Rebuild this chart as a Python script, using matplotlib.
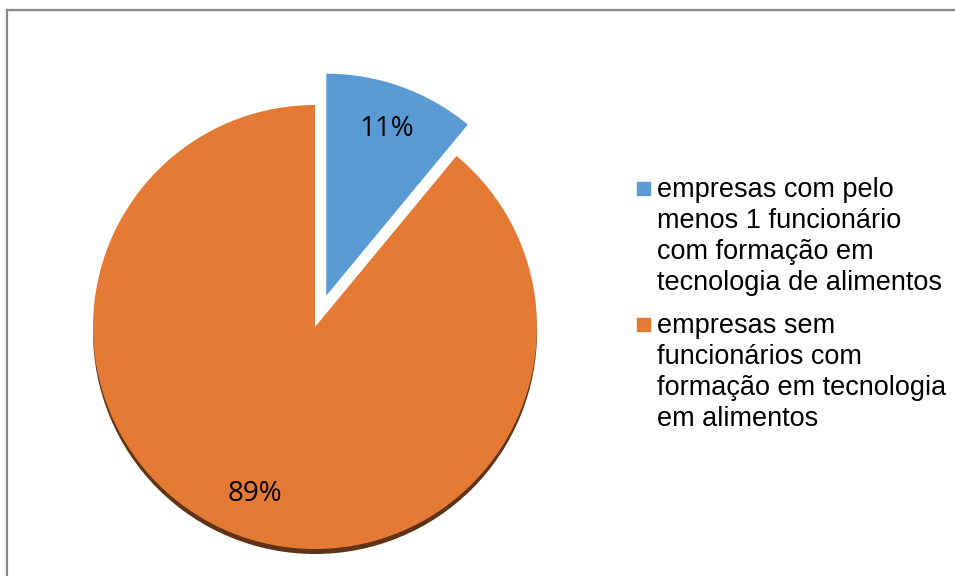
import matplotlib.pyplot as plt
from matplotlib.patches import Rectangle, Circle
from matplotlib.lines import Line2D

W, H = 955, 576

categories = ['empresas com pelo\nmenos 1 funcionário\ncom formação em\ntecnologia de alimentos',
              'empresas sem\nfuncionários com\nformação em tecnologia\nem alimentos']
values = [11, 89]
colors = ['#5B9BD5', '#E47A33']

fig = plt.figure(figsize=(W / 100, H / 100), dpi=100)

# axes covering whole figure, 222 px per data unit, pie centre at (315, 327) px from top-left
R = 222.0
cx, cy = 315.0, 327.0
ax = fig.add_axes([0, 0, 1, 1])

# dark rim under the bottom of the pie (clipped to the lower half)
rim = Circle((0, -5 / R), 1.0, color='#5E3316', lw=0, zorder=0.5)
ax.add_patch(rim)
lower = Rectangle((-2, -2), 4, 2, transform=ax.transData)
rim.set_clip_path(lower)

wedges, texts, autotexts = ax.pie(
    values, colors=colors, startangle=90, counterclock=False,
    explode=[0.15, 0], autopct='%1.0f%%', pctdistance=0.8,
    textprops={'fontsize': 20, 'family': 'Open Sans', 'color': 'black'},
    wedgeprops={'linewidth': 0})
ax.set_aspect('auto')
ax.set_xlim(-cx / R, (W - cx) / R)
ax.set_ylim(-(H - cy) / R, cy / R)
ax.axis('off')

# legend drawn by hand so the marker sits on the first line
first_baseline = [197, 333]
line_step = 31
for lab, col, yb in zip(categories, colors, first_baseline):
    fig.add_artist(Rectangle((637 / W, 1 - (yb - 2) / H), 13 / W, 13 / H,
                             transform=fig.transFigure, color=col))
    for i, line in enumerate(lab.split('\n')):
        fig.text(657 / W, 1 - (yb + i * line_step) / H, line, fontsize=19.5,
                 family='Liberation Sans', va='baseline', ha='left')

# chart-area border (only top and left edges are inside the picture)
fig.add_artist(Line2D([7 / W, 7 / W], [0, 1 - 10 / H], transform=fig.transFigure,
                      color='#888888', lw=1.6))
fig.add_artist(Line2D([7 / W, 1], [1 - 10 / H, 1 - 10 / H], transform=fig.transFigure,
                      color='#888888', lw=1.6))

plt.savefig('out.png', dpi=100)
